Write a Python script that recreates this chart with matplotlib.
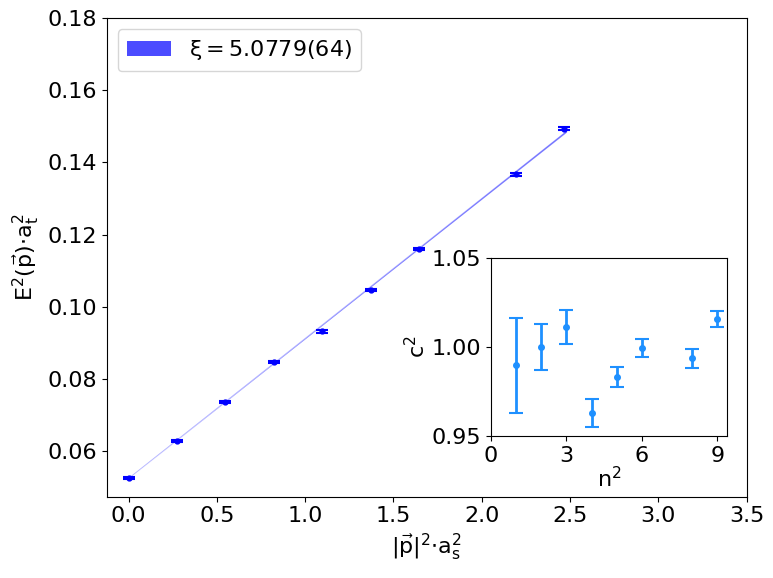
import numpy as np
import matplotlib
matplotlib.use("Agg")
import matplotlib.pyplot as plt

plt.rcParams['mathtext.default'] = 'regular'
plt.rcParams['font.size'] = 16

# momenta n^2 and (2 pi / L)^2 unit, L = 12
n2 = np.array([0, 1, 2, 3, 4, 5, 6, 8, 9])
p_unit = 0.2742
E2 = [0.0526, 0.0629, 0.0736, 0.0847, 0.0932, 0.1046, 0.1160, 0.1367, 0.1493]
E2_err = [0.0003, 0.0003, 0.0003, 0.0003, 0.0003, 0.0003, 0.0003, 0.0004, 0.0004]

xi = 5.0779
xi_err = 0.0064
m2 = 0.0525

# dispersion c^2 for n^2 > 0
c2_n2 = [1, 2, 3, 4, 5, 6, 8, 9]
c2 = [0.9897, 0.9998, 1.0111, 0.9628, 0.9831, 0.9995, 0.9936, 1.0156]
c2_err = [0.0267, 0.0130, 0.0096, 0.0078, 0.0056, 0.0049, 0.0053, 0.0045]

fig = plt.figure(figsize=(7.73, 5.78), dpi=100)
ax = fig.add_axes([0.138, 0.1407, 0.828, 0.828])

p2 = p_unit * n2
ax.errorbar(p2, E2, yerr=E2_err, fmt='o', color='blue', ms=3.5, capsize=4.5,
            elinewidth=1, capthick=1.5)

xf = np.linspace(0, 2.48, 100)
slope = 1 / xi**2
dslope = 2 * xi_err / xi**3
ax.fill_between(xf, m2 + xf * (slope - dslope), m2 + xf * (slope + dslope),
                color='blue', alpha=0.5, lw=0, label=r'$\xi = 5.0779(64)$')
ax.plot(xf, m2 + xf * slope, color='blue', alpha=0.3, lw=0.6)

ax.set_xlim(right=3.5)
ax.set_ylim(top=0.18)
ax.set_xlabel(r'$|\vec{p}|^2{\cdot}a_s^2$')
ax.set_ylabel(r'$E^2(\vec{p}){\cdot}a_t^2$')
leg = ax.legend(loc='upper left')
for h in leg.legend_handles:
    h.set_alpha(0.7)

ins = fig.add_axes([0.635, 0.2457, 0.306, 0.308])
ins.errorbar(c2_n2, c2, yerr=c2_err, fmt='o', color='dodgerblue', ms=4,
             capsize=5, elinewidth=2, capthick=1.5)
ins.set_xlim(left=0)
ins.set_ylim(0.95, 1.05)
ins.set_xticks([0, 3, 6, 9])
ins.set_yticks([0.95, 1.00, 1.05])
ins.set_xlabel(r'$n^2$', labelpad=0)
ins.set_ylabel(r'$c^2$', labelpad=2)

fig.savefig('out.png', dpi=100)
